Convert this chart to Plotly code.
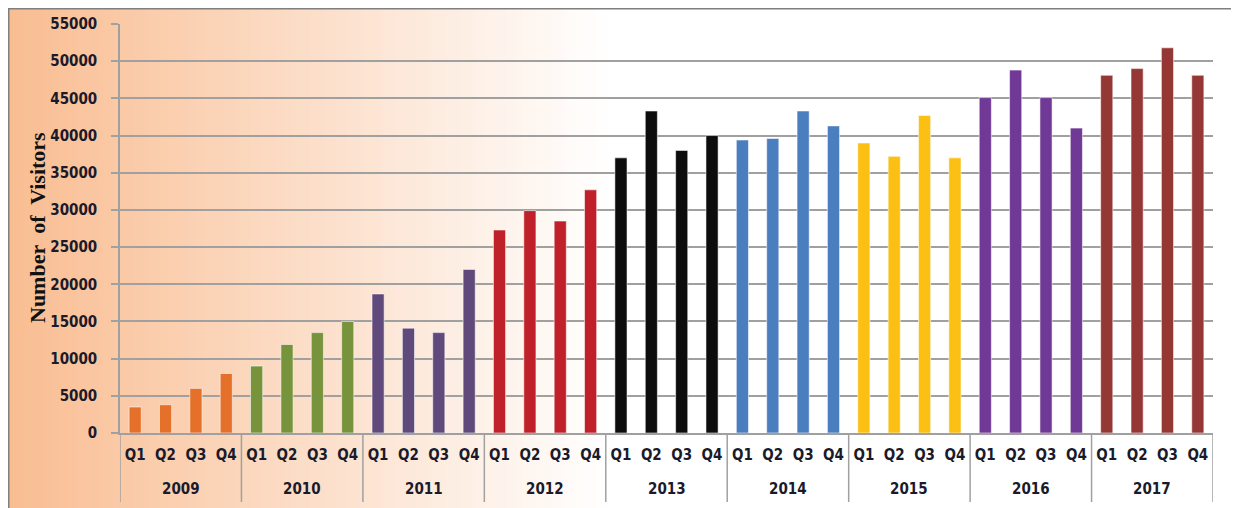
import plotly.graph_objects as go

# ---- data ----
years = ["2009", "2010", "2011", "2012", "2013", "2014", "2015", "2016", "2017"]
quarters = ["Q1", "Q2", "Q3", "Q4"]
visitors_2009 = [3500, 3800, 6000, 8000]
visitors_2010 = [9000, 11900, 13500, 15000]
visitors_2011 = [18700, 14100, 13500, 22000]
visitors_2012 = [27300, 29900, 28500, 32700]
visitors_2013 = [37000, 43300, 38000, 40000]
visitors_2014 = [39400, 39600, 43300, 41300]
visitors_2015 = [39000, 37200, 42700, 37000]
visitors_2016 = [45100, 48800, 45100, 41000]
visitors_2017 = [48100, 49000, 51800, 48100]
y_ticks = [0, 5000, 10000, 15000, 20000, 25000, 30000, 35000, 40000, 45000, 50000, 55000]
year_colors = ["#E5702A", "#77933C", "#604A7B", "#C0202A", "#0D0D0D",
               "#4A7EBF", "#FBC013", "#703996", "#953735"]

all_values = [visitors_2009, visitors_2010, visitors_2011, visitors_2012, visitors_2013,
              visitors_2014, visitors_2015, visitors_2016, visitors_2017]

x_cat, x_q, y_vals, colors = [], [], [], []
for yr, vals, col in zip(years, all_values, year_colors):
    for q, v in zip(quarters, vals):
        x_cat.append(yr + " " + q)
        x_q.append(q)
        y_vals.append(v)
        colors.append(col)

# page is offset by the 8px body margin
OFF = 8
W, H = 1239 - OFF, 508 - OFF
L, T = 120 - OFF, 24 - OFF
R = W - (1213 - OFF)
B = H - (433 - OFF)
PW, PH = W - L - R, H - T - B


def px2x(px):
    return (px - OFF - L) / PW


def px2y(py):
    return (H - B - (py - OFF)) / PH


fig = go.Figure(go.Bar(
    x=x_cat, y=y_vals,
    marker=dict(color=colors, line=dict(color="rgba(255,255,255,0.55)", width=1)),
    hoverinfo="x+y",
))

shapes = []
# background gradient (peach -> white), drawn as thin strips
x0, x1 = 8, 612
n = 120
c0 = (249, 189, 146)
for i in range(n):
    t = i / (n - 1)
    c = tuple(round(c0[k] + (255 - c0[k]) * t) for k in range(3))
    a = x0 + (x1 - x0) * i / n
    b = x0 + (x1 - x0) * (i + 1) / n + 1
    shapes.append(dict(type="rect", xref="paper", yref="paper",
                       x0=px2x(a), x1=px2x(b), y0=px2y(512), y1=px2y(8),
                       fillcolor="rgb(%d,%d,%d)" % c, line=dict(width=0), layer="below"))
# outer border (top and left)
shapes.append(dict(type="line", xref="paper", yref="paper",
                   x0=px2x(8), x1=px2x(1245), y0=px2y(8.5), y1=px2y(8.5),
                   line=dict(color="#7F7F7F", width=2)))
shapes.append(dict(type="line", xref="paper", yref="paper",
                   x0=px2x(8.5), x1=px2x(8.5), y0=px2y(8), y1=px2y(515),
                   line=dict(color="#7F7F7F", width=2)))

# year group dividers and year labels
annotations = []
for i, yr in enumerate(years):
    shapes.append(dict(type="line", xref="x", yref="paper",
                       x0=4 * i - 0.5, x1=4 * i - 0.5, y0=0, y1=px2y(502),
                       line=dict(color="#A0A0A0", width=1.5)))
    annotations.append(dict(text=yr, xref="x", yref="paper", x=4 * i + 1.5, y=px2y(489),
                            xanchor="center", yanchor="middle", showarrow=False,
                            font=dict(family="DejaVu Sans Condensed, DejaVu Sans", size=15,
                                      color="#1A1A2A", weight="bold")))
shapes.append(dict(type="line", xref="x", yref="paper",
                   x0=4 * len(years) - 0.5, x1=4 * len(years) - 0.5, y0=0, y1=px2y(502),
                   line=dict(color="#A0A0A0", width=1.5)))

annotations.append(dict(text="Number\u00a0 of\u00a0 Visitors", textangle=-90, xref="paper", yref="paper",
                        x=px2x(37), y=px2y(228), xanchor="center", yanchor="middle", showarrow=False,
                        font=dict(family="Liberation Serif", size=22, color="#111111", weight="bold")))

tick_font = dict(family="DejaVu Sans Condensed, DejaVu Sans", size=15, color="#1A1A2A", weight="bold")

fig.update_layout(
    width=W, height=H, autosize=False,
    margin=dict(l=L, r=R, t=T, b=B, pad=0, autoexpand=False),
    paper_bgcolor="white", plot_bgcolor="rgba(0,0,0,0)",
    showlegend=False, bargap=0.6,
    shapes=shapes, annotations=annotations,
    xaxis=dict(type="category", tickvals=x_cat, ticktext=x_q, range=[-0.5, len(x_cat) - 0.5],
               showline=True, linecolor="#A0A0A0", linewidth=1.5, automargin=False,
               ticks="", tickfont=tick_font, showgrid=False, ticklabelstandoff=7),
    yaxis=dict(range=[0, 55000], tickvals=y_ticks, ticktext=[str(v) for v in y_ticks],
               showgrid=True, gridcolor="#A0A0A0", gridwidth=1.5, automargin=False,
               showline=True, linecolor="#A0A0A0", linewidth=1.5,
               ticks="outside", ticklen=7, tickcolor="#A0A0A0", tickwidth=1.5,
               tickfont=tick_font, zeroline=False, ticklabelstandoff=11),
)

fig.write_html("out.html")
